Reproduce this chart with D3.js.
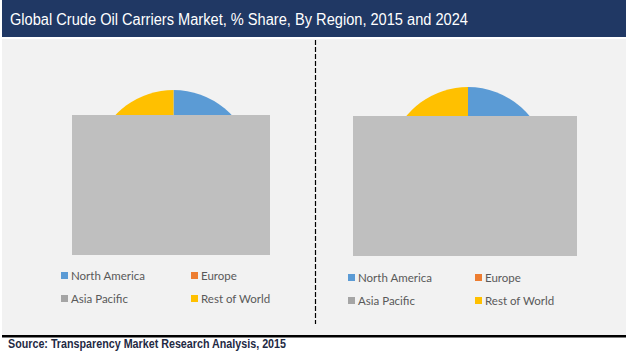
<!DOCTYPE html>
<html><head><meta charset="utf-8">
<script src="https://cdn.jsdelivr.net/npm/d3@7"></script>
<style>html,body{margin:0;padding:0;background:#fff;}svg{display:block;}</style>
</head><body>
<script>
const title = "Global Crude Oil Carriers Market, % Share, By Region, 2015 and 2024";
const source = "Source: Transparency Market Research Analysis, 2015";
const regions = ["North America", "Europe", "Asia Pacific", "Rest of World"];
const share2015 = [22, 18, 40, 20];
const share2024 = [23, 17, 40, 20];
const colors = ["#5B9BD5", "#ED7D31", "#A5A5A5", "#FFC000"];

const W = 628, H = 356;
const svg = d3.select("body").append("svg").attr("width", W).attr("height", H);

// title bar
svg.append("rect").attr("x", 2).attr("y", 0).attr("width", 624).attr("height", 37).attr("fill", "#203864");
svg.append("text").attr("x", 10).attr("y", 25).attr("fill", "#fff")
  .attr("font-family", "Liberation Sans, Arial, sans-serif").attr("font-size", 16)
  .attr("textLength", 458).attr("lengthAdjust", "spacingAndGlyphs").text(title);

// panel
svg.append("rect").attr("x", 2).attr("y", 39).attr("width", 624).attr("height", 296).attr("fill", "#F2F2F2");
svg.append("line").attr("x1", 315.5).attr("x2", 315.5).attr("y1", 40).attr("y2", 324)
  .attr("stroke", "#000").attr("stroke-width", 1.2).attr("stroke-dasharray", "5,2");
svg.append("rect").attr("x", 2).attr("y", 335).attr("width", 624).attr("height", 2.5).attr("fill", "#000");
svg.append("text").attr("x", 8).attr("y", 348).attr("fill", "#1F2A44")
  .attr("font-family", "Liberation Sans, Arial, sans-serif").attr("font-size", 12).attr("font-weight", "bold")
  .attr("textLength", 278).attr("lengthAdjust", "spacingAndGlyphs").text(source);

const pie = d3.pie().sort(null).value(d => d);
const arc = d3.arc().innerRadius(0).outerRadius(80);

function drawPanel(values, cx, cy, rect, legX, legX2, legY) {
  const g = svg.append("g").attr("transform", `translate(${cx},${cy})`);
  g.selectAll("path").data(pie(values)).join("path")
    .attr("d", arc).attr("fill", (d, i) => colors[i]);
  svg.append("rect").attr("x", rect[0]).attr("y", rect[1]).attr("width", rect[2]).attr("height", rect[3]).attr("fill", "#BFBFBF");
  const leg = svg.append("g");
  regions.forEach((r, i) => {
    const x = i % 2 === 0 ? legX : legX2;
    const y = legY + Math.floor(i / 2) * 23;
    leg.append("rect").attr("x", x).attr("y", y - 3.5).attr("width", 7).attr("height", 7).attr("fill", colors[i]);
    leg.append("text").attr("x", x + 10).attr("y", y + 4).attr("fill", "#595959")
      .attr("font-family", "Lato, 'Open Sans', sans-serif").attr("font-size", 11.5).text(r);
  });
}

drawPanel(share2015, 173.5, 170, [72, 115, 198, 140], 61, 191, 275.5);
drawPanel(share2024, 468, 167, [353, 116, 224, 140], 348, 475, 277.5);
</script>
</body></html>
